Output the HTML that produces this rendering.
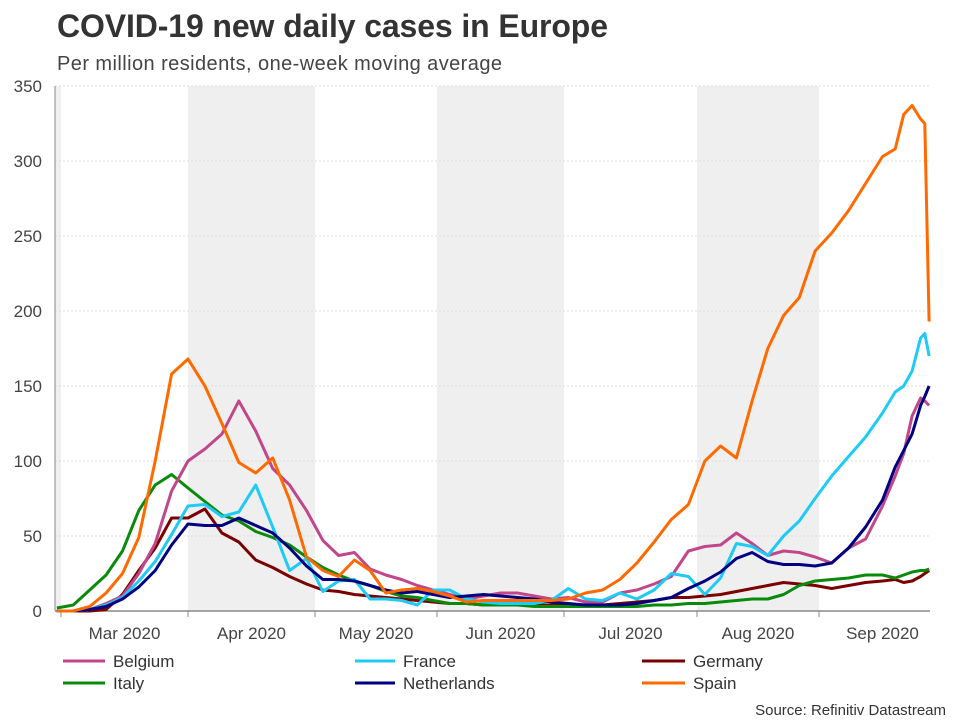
<!DOCTYPE html>
<html><head><meta charset="utf-8"><style>
body{margin:0;background:#fff;width:960px;height:720px;overflow:hidden;font-family:"Liberation Sans",sans-serif}
</style></head><body>
<svg id="chart" width="960" height="720" xmlns="http://www.w3.org/2000/svg" font-family="Liberation Sans, sans-serif">
<text x="57" y="37" font-size="32" font-weight="bold" fill="#333" textLength="551">COVID-19 new daily cases in Europe</text>
<text x="57" y="70" font-size="20" fill="#444" textLength="445">Per million residents, one-week moving average</text>
<g id="bands"></g><g id="grid"></g><g id="axes"></g><g id="lines"></g>
<g font-size="17" fill="#333">
<line x1="63" y1="661" x2="105" y2="661" stroke="#c0478a" stroke-width="3"/><text x="113" y="667">Belgium</text>
<line x1="355" y1="661" x2="395" y2="661" stroke="#1ecbf5" stroke-width="3"/><text x="403" y="667">France</text>
<line x1="642" y1="661" x2="685" y2="661" stroke="#7a0000" stroke-width="3"/><text x="693" y="667">Germany</text>
<line x1="63" y1="683" x2="105" y2="683" stroke="#0a8a0a" stroke-width="3"/><text x="113" y="689">Italy</text>
<line x1="355" y1="683" x2="395" y2="683" stroke="#000080" stroke-width="3"/><text x="403" y="689">Netherlands</text>
<line x1="642" y1="683" x2="685" y2="683" stroke="#ff6a00" stroke-width="3"/><text x="693" y="689">Spain</text>
</g>
<text x="946" y="715" font-size="15" fill="#333" text-anchor="end">Source: Refinitiv Datastream</text>
</svg>
<script>
// days since 1 Mar 2020
const days=[-1,3,7,11,15,19,23,27,31,35,39,43,47,51,55,59,63,67,71,75,79,83,87,91,95,99,103,107,111,115,119,123,127,131,135,139,143,147,151,155,159,163,167,171,175,179,183,187,191,195,199,202,204,206,208,209,210];
const belgium=[0,0,1,5,10,25,45,80,100,108,118,140,120,95,84,67,47,37,39,28,24,21,17,14,11,8,10,12,12,10,8,9,6,6,12,14,18,23,40,43,44,52,45,37,40,39,36,32,42,48,70,90,105,130,142,140,137];
const france=[0,0,1,4,9,20,33,51,70,71,63,66,84,56,27,35,13,20,21,8,8,7,4,14,14,8,6,5,5,5,7,15,8,7,12,8,14,25,23,11,22,45,43,37,50,60,75,90,103,116,132,146,150,160,182,185,170];
const germany=[0,0,0,1,11,27,42,62,62,68,52,46,34,29,23,18,14,13,11,10,9,8,7,6,5,5,4,4,4,4,4,4,4,4,5,6,7,9,9,10,11,13,15,17,19,18,17,15,17,19,20,21,19,20,23,25,27];
const italy=[2,4,14,24,40,67,84,91,82,73,64,60,53,49,44,36,29,24,20,17,13,10,9,7,5,5,4,4,4,3,3,3,3,3,3,3,4,4,5,5,6,7,8,8,11,17,20,21,22,24,24,22,24,26,27,27,28];
const netherlands=[0,0,1,3,8,16,27,44,58,57,57,62,57,52,42,30,21,21,20,17,14,12,13,11,9,10,11,10,9,8,6,5,4,4,4,5,7,9,15,20,26,35,39,33,31,31,30,32,42,56,74,96,107,118,137,143,150];
const spain=[0,0,3,12,25,49,100,158,168,150,125,99,92,102,74,36,27,23,34,27,12,14,15,13,10,6,7,7,7,7,7,8,12,14,21,32,46,61,71,100,110,102,140,175,197,209,240,252,267,285,303,308,331,337,328,325,193];
const yTicks=[0,50,100,150,200,250,300,350];
const monthLabels=["Mar 2020","Apr 2020","May 2020","Jun 2020","Jul 2020","Aug 2020","Sep 2020"];
const monthStarts=[0,31,61,92,122,153,184,214];

const NS="http://www.w3.org/2000/svg";
const anchorsPx=[61,188,315,437,564,697,819,946];
function xScale(d){
  if(d<=monthStarts[0])return anchorsPx[0]+(d-monthStarts[0])*(127/31);
  for(let i=0;i<monthStarts.length-1;i++){
    if(d<=monthStarts[i+1]){const t=(d-monthStarts[i])/(monthStarts[i+1]-monthStarts[i]);return anchorsPx[i]+t*(anchorsPx[i+1]-anchorsPx[i]);}
  }
  return anchorsPx[anchorsPx.length-1];
}
function yScale(v){return 611-v*1.5;}
function mk(tag,attrs,parent){const e=document.createElementNS(NS,tag);for(const k in attrs)e.setAttribute(k,attrs[k]);parent.appendChild(e);return e;}
const L=55,R=930,T=86,B=611;
const bands=document.getElementById('bands');
[[L,xScale(0)],[xScale(31),xScale(61)],[xScale(92),xScale(122)],[xScale(153),xScale(184)]].forEach((b,i)=>{
  const r=mk('rect',{x:b[0],y:T,width:b[1]-b[0],height:B-T,fill:'#efefef'},bands);
  
  
});
const grid=document.getElementById('grid');
yTicks.forEach(v=>{
  if(v>0){const g=mk('line',{x1:L,x2:R,y1:yScale(v),y2:yScale(v),stroke:'#dcdcdc','stroke-dasharray':'2,2','stroke-width':1},grid);
  
  }
  const t=mk('text',{x:42,y:yScale(v)+6,'font-size':17,fill:'#444','text-anchor':'end'},grid);
  t.textContent=v;
  
  
});
const axes=document.getElementById('axes');
const ya=mk('line',{x1:L,x2:L,y1:T,y2:B,stroke:'#888','stroke-width':1},axes);


const xa=mk('line',{x1:L,x2:R,y1:B,y2:B,stroke:'#888','stroke-width':1.5},axes);


monthLabels.forEach((m,i)=>{
  const x0=xScale(monthStarts[i]),x1=xScale(monthStarts[i+1]);
  const tk=mk('line',{x1:x0,x2:x0,y1:B,y2:B+6,stroke:'#888'},axes);
  
  
  const t=mk('text',{x:(x0+x1)/2,y:639,'font-size':17,fill:'#444','text-anchor':'middle'},axes);
  t.textContent=m;
  
  
});
const lines=document.getElementById('lines');
[["line-germany",germany,"#7a0000"],["line-italy",italy,"#0a8a0a"],["line-belgium",belgium,"#c0478a"],["line-france",france,"#1ecbf5"],["line-netherlands",netherlands,"#000080"],["line-spain",spain,"#ff6a00"]].forEach(s=>{
  const pts=s[1].map((v,i)=>xScale(days[i]).toFixed(1)+','+yScale(v).toFixed(1)).join(' ');
  const p=mk('polyline',{points:pts,fill:'none',stroke:s[2],'stroke-width':3,'stroke-linejoin':'round'},lines);
  
  
});
</script>
</body></html>
